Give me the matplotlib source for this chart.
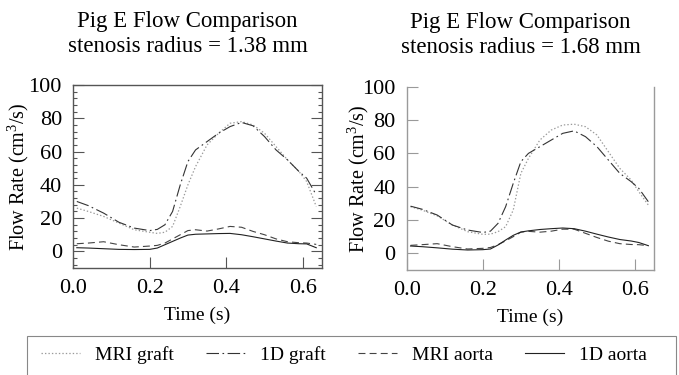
import matplotlib
matplotlib.use("Agg")
import matplotlib.pyplot as plt
from matplotlib.patches import Rectangle
from matplotlib.ticker import MultipleLocator

plt.rcParams['font.family'] = ['Liberation Serif', 'DejaVu Serif']
plt.rcParams['mathtext.fontset'] = 'custom'
plt.rcParams['mathtext.rm'] = 'Liberation Serif'
plt.rcParams['lines.scale_dashes'] = False

# time samples (s)
t = [0.01, 0.04, 0.08, 0.12, 0.16, 0.20, 0.22, 0.24, 0.26, 0.28, 0.30, 0.32,
     0.35, 0.38, 0.41, 0.44, 0.47, 0.50, 0.53, 0.56, 0.59, 0.61, 0.635]

# stenosis radius 1.38 mm
mri_graft_a = [26, 24, 21, 17, 13, 11.5, 10.8, 11.5, 15, 27, 40, 51,
               64, 71, 77, 78, 76, 71, 63, 55, 48, 42, 27]
d1_graft_a = [30, 27.5, 23, 17.5, 14, 12.5, 13.2, 16, 24, 40, 54, 61,
              66, 71, 75, 77.5, 75.5, 69, 61, 55, 48, 44, 34]
mri_aorta_a = [4.6, 5, 5.8, 4, 2.6, 3.2, 3.6, 5, 7.5, 10, 12.5, 13,
               12.2, 13.5, 15, 14.5, 12, 10, 7.5, 5.8, 5.2, 5, 4.2]
d1_aorta_a = [2.2, 2, 1.6, 1.2, 1.1, 1.2, 2, 4, 6, 8, 9.8, 10.3,
              10.5, 10.7, 10.8, 10, 8.8, 7.5, 6.2, 5, 4.6, 4.5, 2.2]

# stenosis radius 1.68 mm
mri_graft_b = [28, 26, 22.5, 17, 13, 11.4, 11.5, 13, 16, 26, 48, 57,
               68, 74, 77, 77.5, 76, 71, 61, 51, 44, 37, 29]
d1_graft_b = [28.3, 26.5, 23, 17, 14, 12.5, 13.3, 18, 28, 42, 55, 60,
              64, 68, 72, 73.5, 70, 64, 56, 48, 43, 39, 31]
mri_aorta_b = [4.8, 5.2, 5.8, 4, 2.6, 3, 3.5, 5.2, 7.5, 10, 12.7, 13.2,
               12.7, 13.3, 14.5, 14.5, 12, 9.5, 7.3, 5.8, 5.3, 5.2, 4.6]
d1_aorta_b = [4.4, 4, 3.3, 2.5, 2, 2.2, 2.6, 5, 8, 10.8, 12.8, 13.5,
              14.3, 14.8, 15.2, 14.8, 13.3, 11.5, 9.8, 8.3, 7.4, 6.5, 4.6]

radii = ["1.38", "1.68"]
labels = ["MRI graft", "1D graft", "MRI aorta", "1D aorta"]

styles = [
    dict(color="#9a9a9a", lw=0.9, ls=(0, (1, 1.5))),
    dict(color="#333333", lw=0.8, ls=(0, (9, 2.5, 1.2, 2.5))),
    dict(color="#444444", lw=0.8, ls=(0, (5, 3))),
    dict(color="#222222", lw=0.8, ls="-"),
]

fig = plt.figure(figsize=(6.79, 3.75), dpi=100)
ax1 = fig.add_axes([0.1075, 0.2853, 0.3667, 0.488])
ax2 = fig.add_axes([0.599, 0.28, 0.3642, 0.4888])

panels = [(ax1, [mri_graft_a, d1_graft_a, mri_aorta_a, d1_aorta_a]),
          (ax2, [mri_graft_b, d1_graft_b, mri_aorta_b, d1_aorta_b])]
ylabel_x = [-0.168, -0.145]

handles = []
for k, (ax, series) in enumerate(panels):
    for s, st, lab in zip(series, styles, labels):
        h, = ax.plot(t, s, label=lab, **st)
        if k == 0:
            handles.append(h)
    ax.set_xlim(0, 0.65)
    ax.set_ylim(-10, 100)
    ax.set_xticks([0.0, 0.2, 0.4, 0.6])
    ax.set_xticklabels(["0.0", "0.2", "0.4", "0.6"])
    ax.set_yticks([0, 20, 40, 60, 80, 100])
    ax.tick_params(labelsize=16, direction="in", length=8, width=0.8, pad=8)
    ax.set_xlabel("Time (s)", fontsize=14, labelpad=6)
    ax.set_ylabel("Flow Rate (cm$^3$/s)", fontsize=14.5)
    ax.yaxis.set_label_coords(ylabel_x[k], 0.5)
    ax.set_title("Pig E Flow Comparison\nstenosis radius = %s mm" % radii[k],
                 fontsize=16.5, pad=24, linespacing=1.25, x=0.46)

# left panel: full dark box with minor ticks on both sides
for sp in ax1.spines.values():
    sp.set_color("#555555")
    sp.set_linewidth(1.0)
ax1.yaxis.set_minor_locator(MultipleLocator(4))
ax1.tick_params(axis="y", which="both", right=True, colors="#555555", labelcolor="black")
ax1.tick_params(axis="y", which="minor", direction="in", length=3, width=0.8)
ax1.tick_params(axis="x", colors="#555555", labelcolor="black")

# right panel: lighter frame, no top spine
ax2.spines["top"].set_visible(False)
for sp in ["left", "bottom", "right"]:
    ax2.spines[sp].set_color("#9a9a9a")
    ax2.spines[sp].set_linewidth(1.0)
ax2.tick_params(colors="#9a9a9a", labelcolor="black")

leg = fig.legend(handles=handles, loc="upper left", bbox_to_anchor=(0.0457, 0.0, 0.922, 0.104),
                 mode="expand", ncol=4, fontsize=14, frameon=False,
                 handlelength=2.0, handletextpad=0.8, columnspacing=2.0, borderaxespad=0,
                 borderpad=0.5)

# legend frame runs wider than its entries and off the bottom edge
fig.patches.append(Rectangle((27 / 679, -0.05), 649 / 679, 0.154, transform=fig.transFigure,
                             fill=False, edgecolor="#888888", lw=0.8))

fig.savefig("out.png", dpi=100)
